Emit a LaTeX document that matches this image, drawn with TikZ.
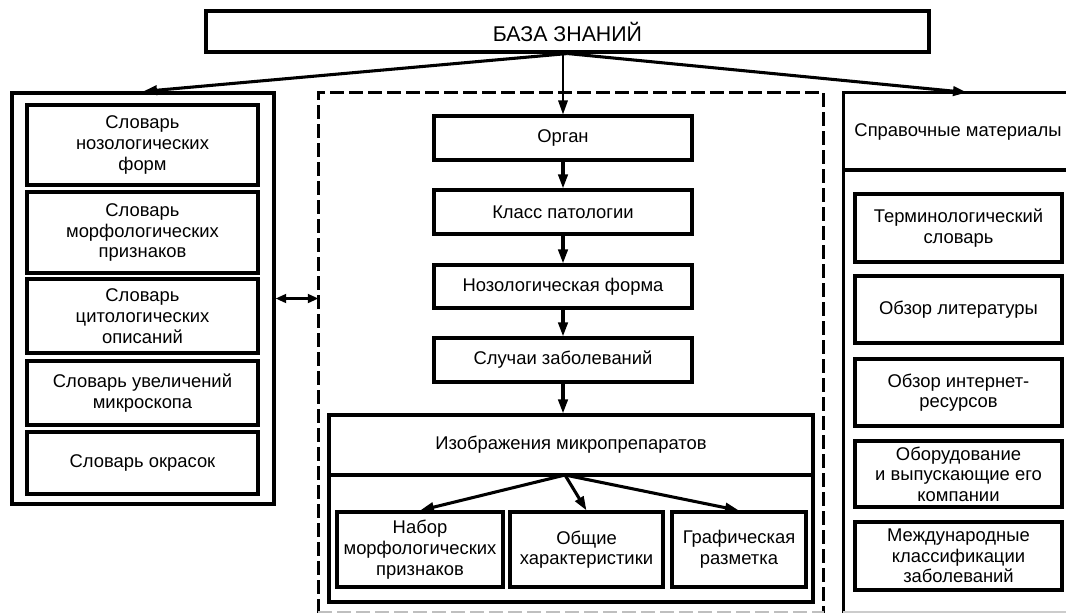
\documentclass[tikz,border=0pt]{standalone}
\usepackage{fontspec}
\setmainfont{Liberation Sans}
\usetikzlibrary{arrows.meta}
\newcommand\mybox[7][]{%
  \node[box,#1,minimum width={(#5-#3)*0.75pt},minimum height={(#6-#4)*0.75pt}] (#2) at ({(#3+#5)/2},{(#4+#6)/2}) {#7};}
\tikzset{
  box/.style={draw, line width=2.3pt, inner sep=0pt, align=center, font=\fontsize{13.8pt}{15.5pt}\selectfont},
  arr/.style={line width=2.3pt, -{Triangle[length=10.5pt,width=7pt]}},
  darr/.style={line width=2.3pt, {Triangle[length=8pt,width=6.5pt]}-{Triangle[length=8pt,width=6.5pt]}},
  dline/.style={line width=1.8pt, dash pattern=on 10.5pt off 3.75pt},
  lbl/.style={inner sep=0pt, align=center, font=\fontsize{13.8pt}{15.5pt}\selectfont}
}
\begin{document}
\begin{tikzpicture}[x=0.75pt,y=-0.75pt]
\useasboundingbox (0,0) rectangle (1066,612);
% top
\mybox[font=\fontsize{16pt}{18pt}\selectfont]{top}{206}{11}{929}{52}{БАЗА ЗНАНИЙ}
% left column
\mybox{dict}{12}{93}{274}{504}{}
\mybox{d1}{27}{105}{258}{185}{Словарь\\нозологических\\форм}
\mybox{d2}{27}{192}{258}{273}{Словарь\\морфологических\\признаков}
\mybox{d3}{27}{279}{258}{353}{Словарь\\цитологических\\описаний}
\mybox{d4}{27}{361}{258}{425}{Словарь увеличений\\микроскопа}
\mybox{d5}{27}{432}{258}{494}{Словарь окрасок}
% center column
\mybox[draw=none]{mid}{320}{94}{822}{611}{}
\draw[dline] (mid.south west) -- (mid.north west) -- (mid.north east) -- (mid.south east);
\draw[dline, black!25] (mid.south west) -- (mid.south east);
\mybox{organ}{434}{116}{692}{160}{Орган}
\mybox{klass}{434}{190}{692}{234}{Класс патологии}
\mybox{nozol}{434}{265}{692}{308}{Нозологическая форма}
\mybox{sluch}{434}{338}{692}{382}{Случаи заболеваний}
\mybox{izobr}{329}{415}{813}{602}{}
\coordinate (divl) at (329,475);
\coordinate (divr) at (813,475);
\draw[line width=2.3pt] (divl) -- (divr);
\node[lbl] (izt) at (571,445) {Изображения микропрепаратов};
\coordinate (split) at (565,475);
\mybox{subA}{337}{512}{503}{587}{Набор\\морфологических\\признаков}
\mybox{subB}{510}{512}{663}{587}{Общие\\характеристики}
\mybox{subC}{672}{512}{806}{587}{Графическая\\разметка}
% right column
\mybox[draw=none]{ref}{845}{94}{1089}{611}{}
\draw[line width=2.3pt] (ref.south west) -- (ref.north west) -- (ref.north east) -- (ref.south east);
\draw[line width=2pt, black!20] (ref.south west) -- (ref.south east);
\coordinate (rdiv) at (845,170);
\draw[line width=2.3pt] (rdiv) -- (rdiv -| ref.east);
\node[lbl] (reft) at (958,132) {Справочные материалы};
\mybox{r1}{855}{194}{1062}{262}{Терминологический\\словарь}
\mybox{r2}{855}{276}{1062}{343}{Обзор литературы}
\mybox{r3}{855}{359}{1062}{426}{Обзор интернет-\\ресурсов}
\mybox{r4}{855}{441}{1062}{507}{Оборудование\\и выпускающие его\\компании}
\mybox{r5}{855}{522}{1062}{590}{Международные\\классификации\\заболеваний}
% connectors
\draw[arr] (top.south) -- (dict.north);
\draw[arr] (top.south) -- (ref.north);
\draw[arr, line width=1.6pt] (organ.north |- top.south) -- (organ.north);
\draw[arr] (organ) -- (klass);
\draw[arr] (klass) -- (nozol);
\draw[arr] (nozol) -- (sluch);
\draw[arr] (sluch.south) -- (sluch.south |- izobr.north);
\draw[arr] (split) -- (subA.north);
\draw[arr] (split) -- (subB.north);
\draw[arr] (split) -- (subC.north);
\draw[darr] (dict.east) -- (dict.east -| mid.west);
\end{tikzpicture}
\end{document}
